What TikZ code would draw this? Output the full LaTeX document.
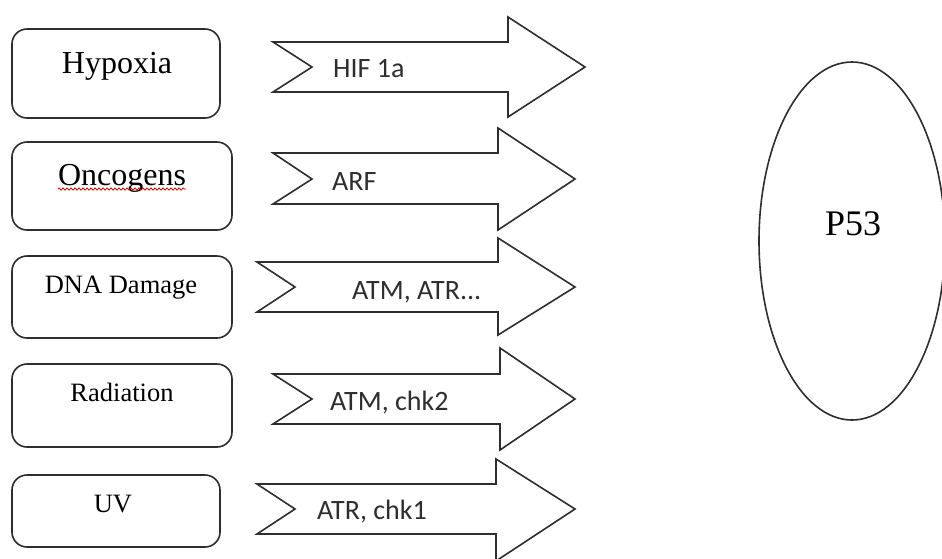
\documentclass[tikz,border=0pt]{standalone}
\usepackage{fontspec}
\newfontfamily\serifrm{Liberation Serif}
\newfontfamily\calib{Carlito}
\usetikzlibrary{decorations.pathmorphing}
\definecolor{ink}{HTML}{2E2E2E}
\tikzset{
  cause/.style={draw=ink, line width=1.6pt, rounded corners=15pt},
  bigarrow/.style={draw=ink, line width=1.6pt, line join=miter, fill=white},
  blab/.style={inner sep=0pt, anchor=base, text=black, font=\serifrm\fontsize{26.5}{30}\selectfont},
  blabbig/.style={blab, font=\serifrm\fontsize{32}{36}\selectfont},
  alab/.style={inner sep=0pt, anchor=base west, text=ink, font=\calib\fontsize{28}{32}\selectfont},
}
\begin{document}
\begin{tikzpicture}[x=1pt,y=-1pt]
\useasboundingbox (0,0) rectangle (942,558);
\clip (0,0) rectangle (942,558);
\fill[white] (0,0) rectangle (942,558);
% cause boxes
\draw[cause] (12,29) rectangle (220,118);
\draw[cause] (12,142) rectangle (232,230);
\draw[cause] (12,256) rectangle (232,338);
\draw[cause] (12,364) rectangle (232,447);
\draw[cause] (12,475) rectangle (220,547);
\node[blabbig] (hyp) at (117,73) {Hypoxia};
\node[blabbig] (onc) at (122,185) {Oncogens};
\draw[red!80!black, line width=0.8pt, decorate, decoration={snake, amplitude=1.1pt, segment length=4pt}]
  ([yshift=-4pt]onc.base west) -- ([yshift=-4pt]onc.base east);
\node[blab] (dna) at (121,293) {DNA Damage};
\node[blab] (rad) at (122,401) {Radiation};
\node[blab] (uv) at (113,512) {UV};
% arrows
\draw[bigarrow] (273,42) -- (508,42) -- (508,17) -- (585,67) -- (508,117) -- (508,92) -- (273,92) -- (312,67) -- cycle;
\draw[bigarrow] (273,153) -- (498,153) -- (498,128) -- (575,179) -- (498,230) -- (498,204) -- (273,204) -- (312,179) -- cycle;
\draw[bigarrow] (257,262) -- (498,262) -- (498,238) -- (575,287) -- (498,335) -- (498,312) -- (257,312) -- (295,287) -- cycle;
\draw[bigarrow] (273,374) -- (500,374) -- (500,348) -- (575,399) -- (500,450) -- (500,424) -- (273,424) -- (312,399) -- cycle;
\draw[bigarrow] (257,484) -- (496,484) -- (496,459) -- (575,509) -- (496,561) -- (496,534) -- (257,534) -- (295,509) -- cycle;
\node[alab] (a1) at (333,77) {HIF 1a};
\node[alab] (a2) at (332,190) {ARF};
\node[alab] (a3) at (352,299) {ATM, ATR...};
\node[alab] (a4) at (330,410) {ATM, chk2};
\node[alab] (a5) at (317,519) {ATR, chk1};
% P53
\draw[ink, line width=1.6pt] (852,241) ellipse [x radius=93, y radius=179];
\node[blab, font=\serifrm\fontsize{36}{40}\selectfont] (p53) at (853,235) {P53};
\end{tikzpicture}
\end{document}
